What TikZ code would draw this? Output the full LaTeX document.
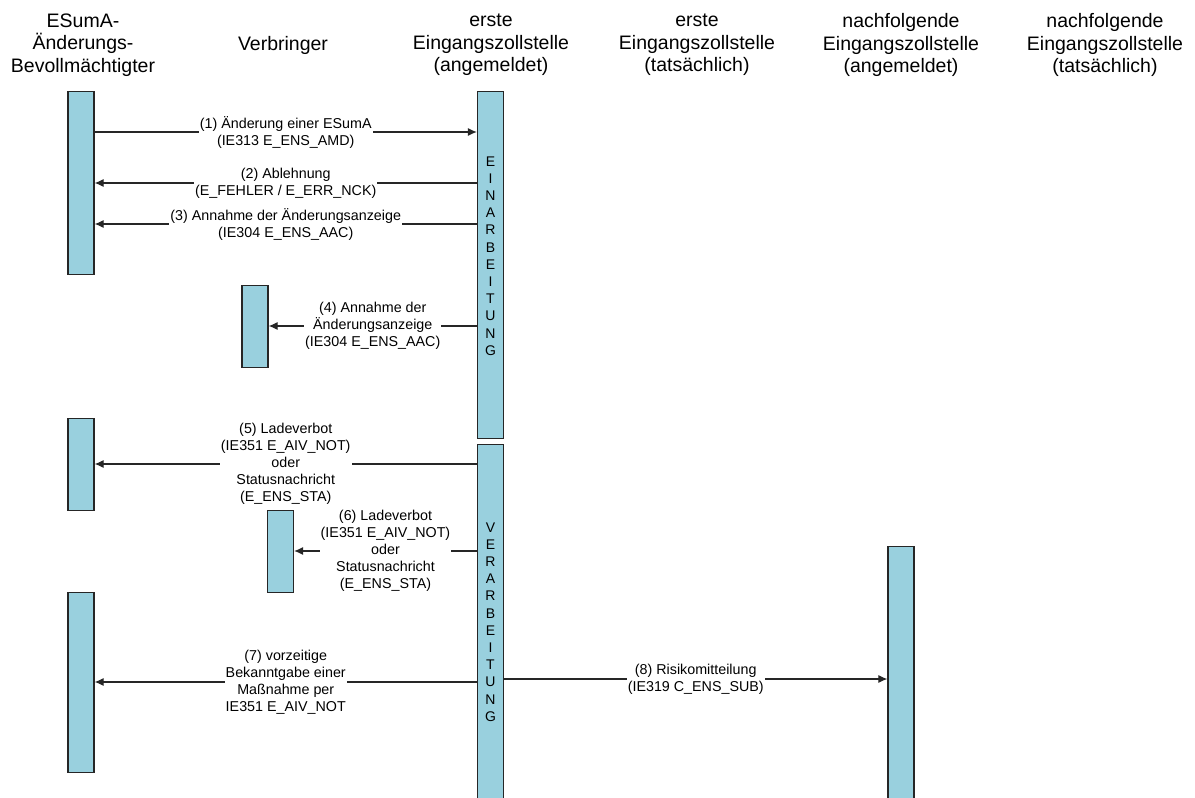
\documentclass[tikz,border=0pt]{standalone}
\usepackage{fontspec}
\setmainfont{Liberation Sans}
\usetikzlibrary{arrows.meta}
\tikzset{>={Latex[length=9pt,width=8pt]}}
\definecolor{barblue}{HTML}{99D0DE}
\tikzset{bar/.style={draw=black!85,line width=1.2pt,fill=barblue,minimum width=26pt,inner sep=0pt,anchor=north}}
\tikzset{head/.style={align=center,font=\fontsize{19.5}{22.5}\selectfont}}
\tikzset{msg/.style={->,line width=1.1pt,draw=black!85}}
\tikzset{lbl/.style={midway,fill=white,inner sep=1pt,align=center,font=\fontsize{14.3}{17}\selectfont}}
\tikzset{vtext/.style={align=center,inner sep=0pt,font=\fontsize{14}{17.2}\selectfont}}

\begin{document}
\begin{tikzpicture}[x=1pt,y=-1pt]
                    \useasboundingbox (0,0) rectangle (1195,798);

                    % headers
                    \node[head] (hEsuma) at (83,45) {ESumA-\\Änderungs-\\Bevollmächtigter};
                    \node[head] (hVerbr) at (283,45) {Verbringer};
                    \node[head] (hErsteAng) at (491,45) {erste\\Eingangszollstelle\\(angemeldet)};
                    \node[head] (hErsteTat) at (697,45) {erste\\Eingangszollstelle\\(tatsächlich)};
                    \node[head] (hNachAng) at (901,45) {nachfolgende\\Eingangszollstelle\\(angemeldet)};
                    \node[head] (hNachTat) at (1105,45) {nachfolgende\\Eingangszollstelle\\(tatsächlich)};

                    % activation bars
                    \node[bar,minimum height=183pt] (a1) at (81,91) {};
                    \node[bar,minimum height=92pt] (a2) at (81,418) {};
                    \node[bar,minimum height=180pt] (a3) at (81,592) {};
                    \node[bar,minimum height=82pt] (v1) at (255,285) {};
                    \node[bar,minimum height=82pt] (v2) at (280.5,510) {};
                    \node[bar,minimum height=347pt] (e1) at (490.5,91) {};
                    \node[bar,minimum height=360pt] (e2) at (490.5,444) {};
                    \node[bar,minimum height=260pt] (n1) at (901,546) {};

                    \node[vtext] (ein) at (490.5,256) {E\\I\\N\\A\\R\\B\\E\\I\\T\\U\\N\\G};
                    \node[vtext] (ver) at (490.5,622) {V\\E\\R\\A\\R\\B\\E\\I\\T\\U\\N\\G};

                    % message levels
                    \coordinate (y1) at (0,132);
                    \coordinate (y2) at (0,183);
                    \coordinate (y3) at (0,224);
                    \coordinate (y4) at (0,326);
                    \coordinate (y5) at (0,464);
                    \coordinate (y6) at (0,551);
                    \coordinate (y7) at (0,682);
                    \coordinate (y8) at (0,679);

                    \draw[msg] (a1.east |- y1) -- (e1.west |- y1)
                        node[lbl] {(1) Änderung einer ESumA\\(IE313 E\_ENS\_AMD)};
                    \draw[msg] (e1.west |- y2) -- (a1.east |- y2)
                        node[lbl] {(2) Ablehnung\\(E\_FEHLER / E\_ERR\_NCK)};
                    \draw[msg] (e1.west |- y3) -- (a1.east |- y3)
                        node[lbl] {(3) Annahme der Änderungsanzeige\\(IE304 E\_ENS\_AAC)};
                    \draw[msg] (e1.west |- y4) -- (v1.east |- y4)
                        node[lbl] {(4) Annahme der\\Änderungsanzeige\\(IE304 E\_ENS\_AAC)};
                    \draw[msg] (e2.west |- y5) -- (a2.east |- y5)
                        node[lbl] {(5) Ladeverbot\\(IE351 E\_AIV\_NOT)\\oder\\Statusnachricht\\(E\_ENS\_STA)};
                    \draw[msg] (e2.west |- y6) -- (v2.east |- y6)
                        node[lbl] {(6) Ladeverbot\\(IE351 E\_AIV\_NOT)\\oder\\Statusnachricht\\(E\_ENS\_STA)};
                    \draw[msg] (e2.west |- y7) -- (a3.east |- y7)
                        node[lbl] {(7) vorzeitige\\Bekanntgabe einer\\Maßnahme per\\IE351 E\_AIV\_NOT};
                    \draw[msg] (e2.east |- y8) -- (n1.west |- y8)
                        node[lbl] {(8) Risikomitteilung\\(IE319 C\_ENS\_SUB)};

                \end{tikzpicture}
\end{document}
